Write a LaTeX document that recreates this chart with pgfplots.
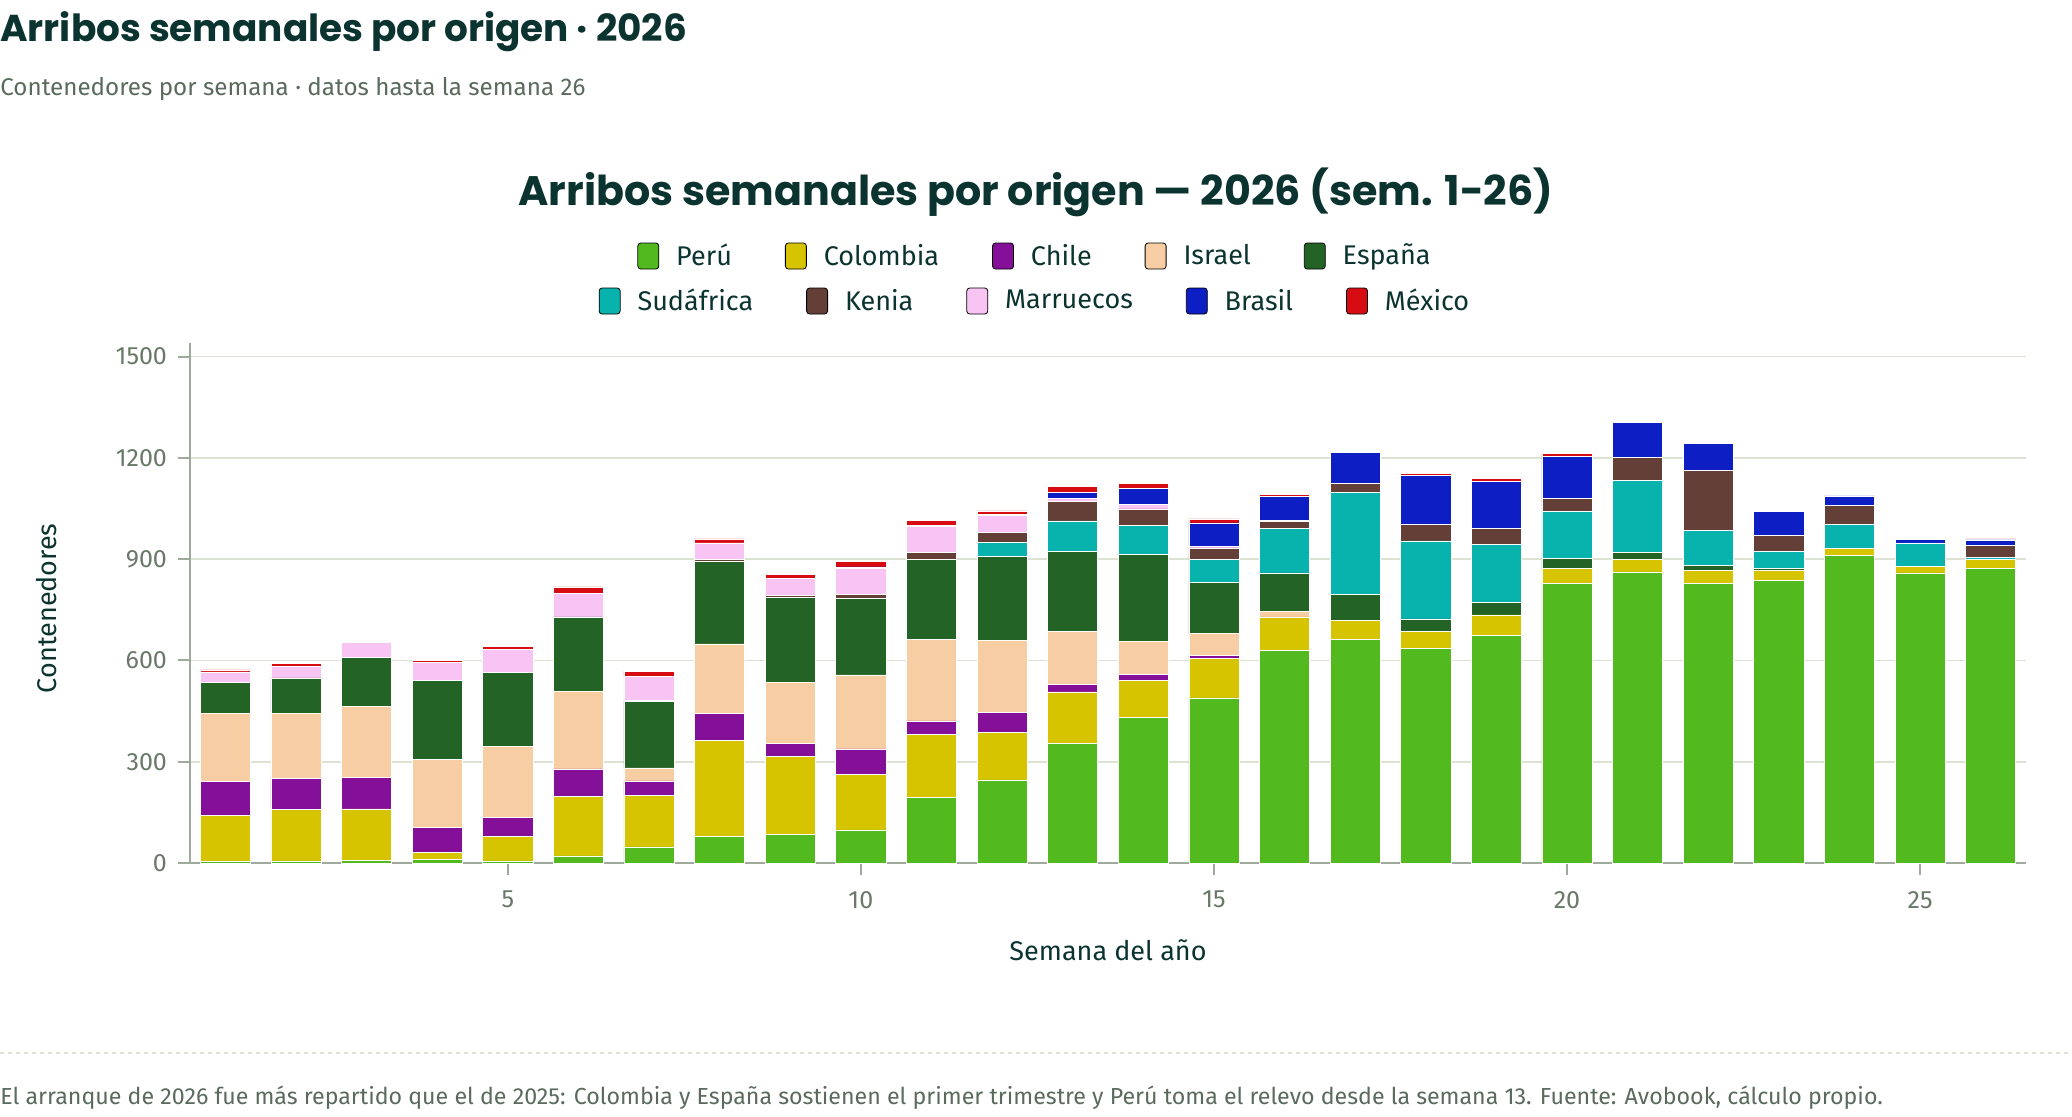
\documentclass[border=0pt]{standalone}
\usepackage{fontspec}
\setmainfont{Fira Sans}
\newfontfamily\titlefont{Poppins}
\usepackage{pgfplots}
\usepackage{pgfplotstable}
\pgfplotsset{compat=1.18}
\definecolor{cPeru}{RGB}{82,185,30}
\definecolor{cCol}{RGB}{214,196,0}
\definecolor{cChile}{RGB}{132,16,154}
\definecolor{cIsr}{RGB}{247,205,164}
\definecolor{cEsp}{RGB}{35,99,37}
\definecolor{cSud}{RGB}{9,179,173}
\definecolor{cKen}{RGB}{100,63,55}
\definecolor{cMar}{RGB}{248,196,244}
\definecolor{cBra}{RGB}{13,31,196}
\definecolor{cMex}{RGB}{215,12,18}
\definecolor{titlec}{RGB}{11,51,48}
\definecolor{gridc}{RGB}{221,227,210}
\definecolor{axisc}{RGB}{160,170,156}
\definecolor{tickc}{RGB}{105,120,104}
\definecolor{subc}{RGB}{90,106,92}

\pgfplotstableread{
w peru col chile isr esp sud ken mar bra mex
1 4 136 101 201 94 0 0 30 0 6
2 6 153 91 194 104 0 0 35 0 7
3 8 152 93 212 143 0 0 46 0 3
4 10 22 73 202 233 0 0 55 0 6
5 6 72 56 211 219 0 0 69 0 9
6 21 176 82 229 221 0 0 70 0 19
7 48 153 42 39 197 0 2 71 0 16
8 80 283 79 207 246 0 3 50 0 12
9 84 231 40 180 252 0 5 50 2 10
10 98 165 75 219 227 0 11 78 4 16
11 194 187 40 242 235 0 23 76 4 14
12 246 141 59 214 248 41 31 49 4 10
13 354 153 21 158 237 90 57 11 16 18
14 431 110 18 98 257 85 50 13 47 15
15 489 116 10 64 153 68 33 5 69 12
16 630 99 0 15 115 133 19 3 71 6
17 663 56 0 0 77 301 27 0 92 4
18 636 49 0 0 38 231 50 0 143 7
19 674 61 0 0 38 170 48 0 138 9
20 829 43 0 0 30 140 38 0 125 7
21 862 37 0 0 22 211 69 0 105 1
22 829 37 0 0 15 103 178 0 81 0
23 837 30 0 0 6 50 47 0 71 0
24 912 20 0 0 0 72 54 0 29 1
25 859 19 0 0 0 70 0 0 11 0
26 873 26 0 0 0 6 36 0 16 3
}\datatable

\pgfplotsset{
  mylegend/.style={
    hide axis, scale only axis, width=10pt, height=10pt,
    xmin=0, xmax=1, ymin=0, ymax=1, anchor=center,
    legend columns=-1,
    legend style={draw=none, fill=none, at={(0.5,0.5)}, anchor=center,
      font=\fontsize{13.5}{16}\selectfont, text=titlec,
      /tikz/every even column/.append style={column sep=24.5pt},
      /tikz/every odd column/.append style={column sep=6.5pt}},
    legend image code/.code={\fill[##1, rounded corners=1.5pt] (0pt,-6.5pt) rectangle (10.5pt,6.5pt);},
  },
  bst/.style={draw=white, line width=0.3pt, fill=#1},
}

\begin{document}
\begin{tikzpicture}
\path[use as bounding box] (0,0) rectangle (1036pt,-558pt);

\node[anchor=base west, inner sep=0pt, text=titlec] at (0,-20.5pt) {\titlefont\bfseries\fontsize{18.7}{22}\selectfont Arribos semanales por origen · 2026};
\node[anchor=base west, inner sep=0pt, text=subc] at (0,-47.5pt) {\fontsize{12.1}{14}\selectfont Contenedores por semana · datos hasta la semana 26};
\node[anchor=center, inner sep=0pt, text=titlec] at (518pt,-96pt) {\titlefont\bfseries\fontsize{20.6}{24}\selectfont Arribos semanales por origen — 2026 (sem. 1-26)};

\begin{axis}[
  scale only axis, width=918pt, height=260pt,
  at={(95pt,-431.5pt)}, anchor=south west,
  ybar stacked, bar width=0.71,
  xmin=0.5, xmax=26.5, ymin=0, ymax=1540,
  xtick={5,10,15,20,25}, ytick={0,300,600,900,1200,1500},
  axis x line*=bottom, axis y line*=left,
  axis line style={color=axisc, line width=1pt},
  tick style={color=axisc, line width=1pt},
  tick align=outside, major tick length=6pt,
  ymajorgrids, grid style={color=gridc, line width=0.8pt},
  /pgf/number format/assume math mode=true,
  /pgf/number format/1000 sep={},
  ticklabel style={font=\fontsize{12.5}{15}\selectfont, text=tickc},
  xticklabel style={yshift=-4.5pt},
  yticklabel style={xshift=-2pt},
  xlabel={Semana del año}, ylabel={Contenedores},
  label style={font=\fontsize{13.5}{16}\selectfont, text=titlec},
  xlabel style={at={(axis description cs:0.5,0)}, anchor=center, yshift=-43.5pt},
  ylabel style={at={(axis description cs:-0.0784,0.49)}, anchor=center},
  clip=false,
]
\addplot[bst=cPeru] table[x=w,y=peru]{\datatable};
\addplot[bst=cCol] table[x=w,y=col]{\datatable};
\addplot[bst=cChile] table[x=w,y=chile]{\datatable};
\addplot[bst=cIsr] table[x=w,y=isr]{\datatable};
\addplot[bst=cEsp] table[x=w,y=esp]{\datatable};
\addplot[bst=cSud] table[x=w,y=sud]{\datatable};
\addplot[bst=cKen] table[x=w,y=ken]{\datatable};
\addplot[bst=cMar] table[x=w,y=mar]{\datatable};
\addplot[bst=cBra] table[x=w,y=bra]{\datatable};
\addplot[bst=cMex] table[x=w,y=mex]{\datatable};
\end{axis}

\begin{axis}[mylegend, at={(518pt,-128pt)}]
\addlegendimage{fill=cPeru}\addlegendentry{Perú}
\addlegendimage{fill=cCol}\addlegendentry{Colombia}
\addlegendimage{fill=cChile}\addlegendentry{Chile}
\addlegendimage{fill=cIsr}\addlegendentry{Israel}
\addlegendimage{fill=cEsp}\addlegendentry{España}
\end{axis}
\begin{axis}[mylegend, at={(518pt,-150.5pt)}]
\addlegendimage{fill=cSud}\addlegendentry{Sudáfrica}
\addlegendimage{fill=cKen}\addlegendentry{Kenia}
\addlegendimage{fill=cMar}\addlegendentry{Marruecos}
\addlegendimage{fill=cBra}\addlegendentry{Brasil}
\addlegendimage{fill=cMex}\addlegendentry{México}
\end{axis}

\draw[color=gridc, line width=0.8pt, dash pattern=on 2pt off 2pt] (0,-526.6pt) -- (1036pt,-526.6pt);
\node[anchor=base west, inner sep=0pt, text=subc] at (0,-552pt) {\fontsize{11.6}{14}\selectfont El arranque de 2026 fue más repartido que el de 2025: Colombia y España sostienen el primer trimestre y Perú toma el relevo desde la semana 13. Fuente: Avobook, cálculo propio.};
\end{tikzpicture}
\end{document}
